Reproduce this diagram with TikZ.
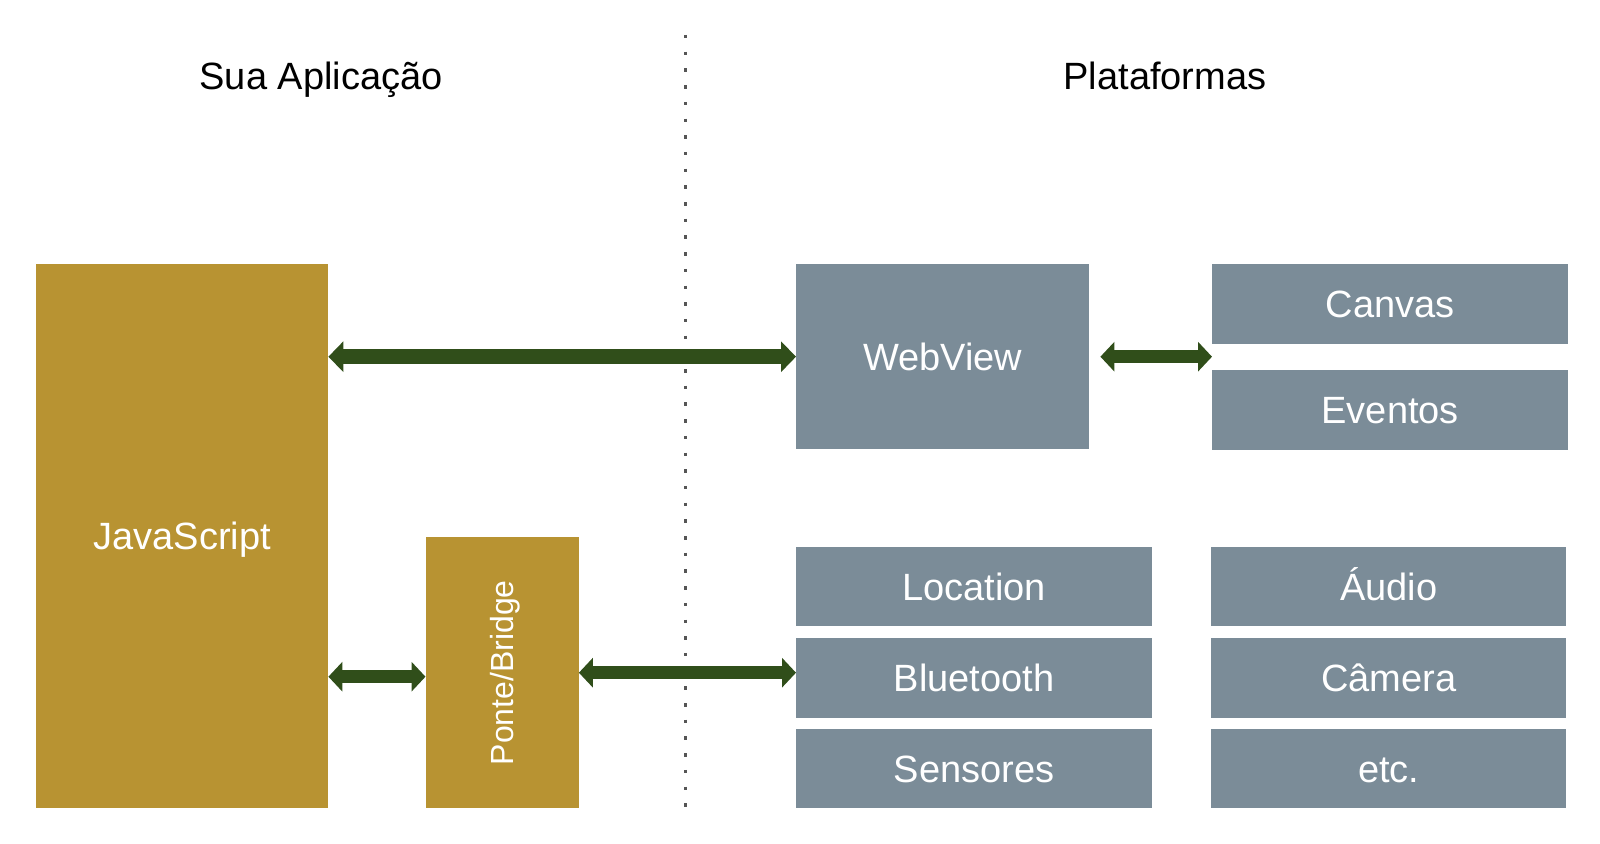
\documentclass[tikz,border=0pt]{standalone}
\usepackage{fontspec}
\setmainfont{Liberation Sans}
\usetikzlibrary{arrows.meta}
\definecolor{gold}{RGB}{184,147,50}
\definecolor{slate}{RGB}{123,140,152}
\definecolor{darkgreen}{RGB}{48,78,26}
\definecolor{dotgray}{RGB}{85,85,85}
\tikzset{
  goldbox/.style={fill=gold, draw=none, anchor=north west, inner sep=0pt, text=white,
    font=\fontsize{38}{40}\selectfont, text height=27.2pt, text depth=0pt},
  slatebox/.style={fill=slate, draw=none, anchor=north west, inner sep=0pt, text=white,
    font=\fontsize{38}{40}\selectfont, text height=27.2pt, text depth=0pt},
  header/.style={anchor=base, inner sep=0pt, font=\fontsize{38}{40}\selectfont},
  bigarrow/.style={draw=darkgreen, line width=15pt,
    {Triangle[width=30pt,length=15pt]}-{Triangle[width=30pt,length=15pt]}},
  smallarrow/.style={draw=darkgreen, line width=12.5pt,
    {Triangle[width=29pt,length=14pt]}-{Triangle[width=29pt,length=14pt]}},
  divider/.style={draw=dotgray, line width=3.5pt, dash pattern=on 3.5pt off 13.2pt}
}
\begin{document}
\begin{tikzpicture}[x=1pt,y=-1pt]
\useasboundingbox (0,0) rectangle (1600,843);
% headers
\node[header] (hleft) at (321,89) {Sua Aplicação};
\node[header] (hright) at (1165,89) {Plataformas};
% divider
\coordinate (dtop) at (685.7,35);
\coordinate (dbot) at (685.7,812);
\draw[divider] (dtop) -- (dbot);
% left boxes
\node[goldbox, minimum width=292pt, minimum height=544pt] (js) at (36,264) {JavaScript};
\node[goldbox, minimum width=153pt, minimum height=271pt,
  label={[rotate=90, text=white, font=\fontsize{32}{34}\selectfont, text height=22.9pt, text depth=0pt, inner sep=0pt]center:Ponte/Bridge}] (ponte) at (425.5,537) {};
% right boxes
\node[slatebox, minimum width=293pt, minimum height=185pt] (web) at (796,264) {WebView};
\node[slatebox, minimum width=356pt, minimum height=80pt] (canvas) at (1212,264) {Canvas};
\node[slatebox, minimum width=356pt, minimum height=80.5pt] (eventos) at (1212,369.5) {Eventos};
\node[slatebox, minimum width=356pt, minimum height=79pt] (loc) at (796,547) {Location};
\node[slatebox, minimum width=356pt, minimum height=79.6pt] (blue) at (796,637.7) {Bluetooth};
\node[slatebox, minimum width=356pt, minimum height=79.6pt] (sens) at (796,728.6) {Sensores};
\node[slatebox, minimum width=355pt, minimum height=79pt] (audio) at (1211,547) {Áudio};
\node[slatebox, minimum width=355pt, minimum height=79.6pt] (camera) at (1211,637.7) {Câmera};
\node[slatebox, minimum width=355pt, minimum height=79.6pt] (etc) at (1211,728.6) {etc.};
% connectors
\draw[bigarrow] (js.east |- web.west) -- (web.west);
\draw[smallarrow] ([xshift=11pt]web.east) -- (web.east -| canvas.west);
\draw[smallarrow] ([yshift=-4pt]ponte.west -| js.east) -- ([yshift=-4pt]ponte.west);
\draw[smallarrow] (ponte.east) -- (ponte.east -| blue.west);
\end{tikzpicture}
\end{document}
